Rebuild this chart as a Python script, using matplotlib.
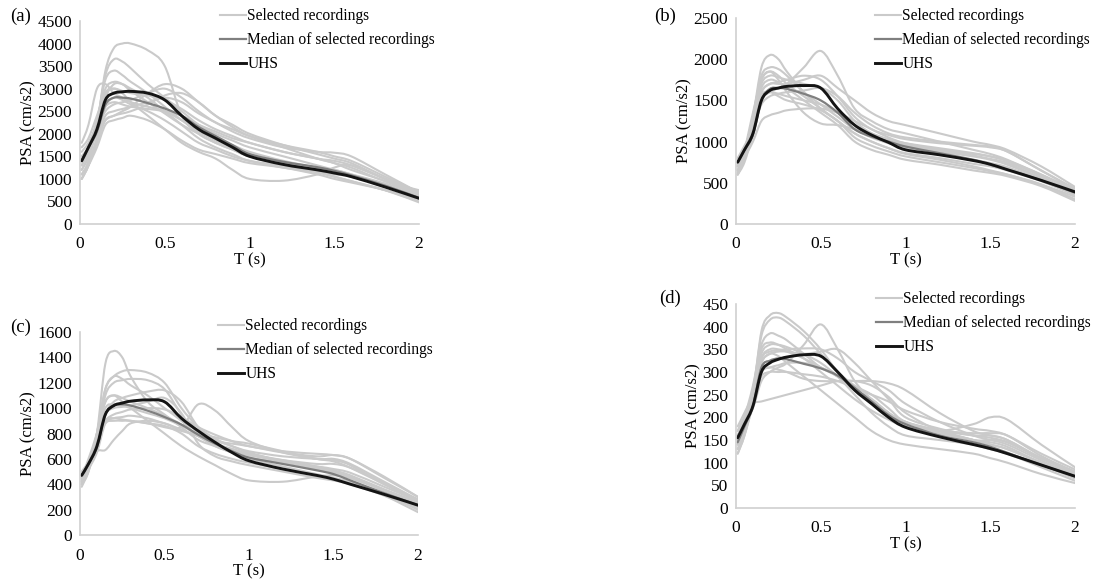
import matplotlib
matplotlib.use("Agg")
import matplotlib.pyplot as plt
from matplotlib.path import Path
from matplotlib.patches import PathPatch
from matplotlib.lines import Line2D

plt.rcParams['font.family'] = ['Liberation Serif', 'DejaVu Serif']

T = [0.01, 0.05, 0.1, 0.15, 0.2, 0.25, 0.3, 0.4, 0.5, 0.6,
     0.7, 0.8, 0.9, 1.0, 1.2, 1.4, 1.5, 1.6, 1.8, 2.0]

# ---- panel (a) ----
uhs_a = [1400, 1700, 2100, 2750, 2900, 2930, 2940, 2900, 2750, 2400,
         2100, 1900, 1700, 1500, 1320, 1200, 1130, 1050, 820, 570]
med_a = [1400, 1700, 2050, 2650, 2800, 2800, 2780, 2680, 2560, 2400,
         2150, 1950, 1750, 1550, 1380, 1260, 1180, 1080, 850, 580]
rec_a = [
    [1200, 1500, 2200, 3400, 3900, 4000, 4000, 3850, 3500, 2400, 2000, 1800, 1650, 1500, 1350, 1150, 1050, 950, 750, 550],
    [1100, 1400, 2200, 3300, 3650, 3600, 3450, 3100, 2800, 2500, 2200, 2000, 1850, 1700, 1500, 1300, 1200, 1100, 850, 600],
    [1500, 1700, 2300, 3200, 3400, 3300, 3150, 2900, 2600, 2300, 2050, 1850, 1700, 1550, 1350, 1200, 1150, 1050, 850, 600],
    [1800, 2200, 3000, 3100, 2900, 2800, 2700, 2600, 2500, 2300, 2100, 1900, 1750, 1600, 1400, 1250, 1200, 1100, 900, 650],
    [1300, 1600, 2200, 2900, 3000, 2900, 2700, 2400, 2100, 1800, 1600, 1450, 1200, 1000, 960, 1100, 1250, 1300, 1000, 700],
    [1000, 1300, 1900, 2400, 2500, 2550, 2600, 2700, 2800, 2700, 2450, 2250, 2050, 1900, 1700, 1600, 1580, 1500, 1100, 700],
    [1000, 1300, 1800, 2300, 2400, 2500, 2600, 2900, 3100, 3000, 2700, 2400, 2200, 2000, 1750, 1550, 1450, 1350, 1000, 650],
    [1600, 1800, 2200, 2600, 2700, 2650, 2600, 2550, 2500, 2400, 2200, 2050, 1900, 1800, 1600, 1450, 1400, 1300, 1000, 700],
    [1200, 1500, 2100, 2800, 3100, 3100, 3000, 2800, 2500, 2200, 1900, 1700, 1550, 1400, 1300, 1200, 1150, 1050, 850, 600],
    [1400, 1600, 2000, 2300, 2400, 2450, 2500, 2650, 2850, 2900, 2700, 2400, 2150, 1950, 1700, 1450, 1350, 1200, 950, 650],
    [1100, 1300, 1700, 2200, 2300, 2350, 2400, 2300, 2100, 1850, 1650, 1550, 1450, 1350, 1250, 1100, 1000, 920, 750, 500],
    [1300, 1600, 2300, 3000, 3150, 3100, 2950, 2700, 2450, 2200, 2000, 1800, 1650, 1500, 1300, 1150, 1050, 950, 750, 480],
    [1700, 1900, 2400, 2900, 3000, 2950, 2900, 2850, 2750, 2550, 2300, 2100, 1950, 1800, 1600, 1450, 1350, 1250, 950, 750],
    [1500, 1700, 2100, 2500, 2650, 2700, 2750, 2900, 3000, 2800, 2500, 2250, 2100, 1950, 1750, 1600, 1500, 1400, 1050, 700],
    [1000, 1300, 1900, 2600, 2800, 2750, 2650, 2500, 2300, 2050, 1800, 1650, 1500, 1400, 1250, 1150, 1100, 1050, 850, 620],
]

# ---- panel (b) ----
uhs_b = [750, 900, 1100, 1500, 1620, 1650, 1670, 1680, 1650, 1400,
         1200, 1080, 990, 900, 840, 770, 725, 660, 530, 390]
med_b = [750, 900, 1080, 1500, 1640, 1650, 1640, 1580, 1500, 1350,
         1150, 1060, 1000, 940, 860, 780, 720, 660, 530, 380]
rec_b = [
    [600, 800, 1300, 1900, 2050, 2000, 1850, 1600, 1400, 1250, 1100, 1000, 920, 850, 780, 700, 650, 600, 480, 330],
    [700, 850, 1100, 1500, 1600, 1650, 1700, 1900, 2100, 1800, 1400, 1250, 1150, 1100, 1000, 900, 850, 780, 600, 420],
    [650, 850, 1300, 1800, 1900, 1880, 1800, 1600, 1450, 1300, 1150, 1050, 980, 920, 850, 780, 740, 690, 540, 380],
    [600, 800, 1000, 1250, 1320, 1350, 1380, 1400, 1400, 1350, 1250, 1150, 1050, 980, 900, 830, 790, 740, 560, 380],
    [700, 900, 1200, 1600, 1700, 1700, 1700, 1750, 1800, 1650, 1500, 1350, 1250, 1200, 1100, 1000, 960, 900, 700, 450],
    [700, 900, 1350, 1750, 1850, 1800, 1700, 1550, 1400, 1250, 1100, 1000, 920, 860, 800, 730, 700, 650, 520, 350],
    [650, 850, 1300, 1750, 1850, 1750, 1600, 1350, 1220, 1200, 1150, 1080, 1000, 950, 880, 820, 780, 720, 560, 400],
    [800, 950, 1150, 1450, 1550, 1580, 1600, 1620, 1650, 1550, 1350, 1200, 1100, 1050, 1000, 960, 940, 880, 650, 420],
    [600, 750, 1100, 1550, 1600, 1550, 1500, 1450, 1380, 1250, 1050, 950, 880, 820, 750, 680, 640, 600, 480, 300],
    [750, 900, 1250, 1700, 1800, 1780, 1750, 1700, 1650, 1500, 1250, 1100, 1020, 960, 900, 850, 820, 770, 600, 400],
    [650, 850, 1200, 1650, 1750, 1720, 1650, 1500, 1350, 1200, 1000, 900, 840, 780, 720, 650, 620, 580, 460, 280],
    [700, 900, 1250, 1600, 1700, 1720, 1750, 1800, 1750, 1550, 1300, 1150, 1080, 1030, 980, 950, 930, 880, 650, 430],
    [620, 800, 1150, 1550, 1600, 1580, 1550, 1500, 1450, 1350, 1200, 1100, 1030, 980, 920, 860, 820, 760, 580, 350],
]

# ---- panel (c) ----
uhs_c = [470, 560, 700, 950, 1020, 1040, 1055, 1065, 1050, 920,
         820, 730, 650, 585, 520, 470, 440, 400, 320, 235]
med_c = [470, 560, 690, 950, 1020, 1030, 1020, 980, 930, 870,
         790, 720, 660, 610, 560, 510, 480, 430, 330, 235]
rec_c = [
    [400, 500, 800, 1350, 1450, 1400, 1250, 1050, 950, 850, 750, 700, 650, 600, 540, 480, 450, 420, 320, 220],
    [450, 550, 800, 1150, 1250, 1290, 1300, 1280, 1200, 1000, 850, 760, 700, 650, 580, 520, 490, 450, 350, 250],
    [420, 520, 750, 1100, 1200, 1220, 1230, 1220, 1150, 950, 800, 720, 680, 640, 590, 540, 510, 470, 360, 260],
    [480, 560, 700, 950, 1050, 1080, 1100, 1130, 1140, 1050, 850, 750, 700, 660, 620, 600, 590, 550, 400, 270],
    [450, 520, 650, 880, 920, 930, 940, 920, 880, 850, 1030, 980, 850, 740, 650, 600, 580, 530, 400, 280],
    [400, 550, 660, 670, 750, 820, 880, 900, 880, 830, 780, 740, 720, 700, 650, 620, 630, 600, 450, 300],
    [450, 600, 800, 1050, 1100, 1050, 1000, 900, 800, 700, 620, 550, 480, 430, 420, 460, 470, 450, 350, 200],
    [420, 520, 800, 1150, 1250, 1230, 1180, 1100, 1000, 900, 780, 720, 670, 630, 580, 530, 500, 460, 350, 240],
    [500, 580, 750, 900, 950, 970, 990, 1000, 990, 930, 850, 790, 740, 700, 660, 640, 630, 600, 460, 300],
    [430, 520, 700, 900, 920, 910, 900, 880, 860, 800, 700, 640, 600, 570, 520, 470, 440, 410, 320, 200],
    [460, 560, 780, 1050, 1100, 1080, 1050, 1000, 940, 870, 780, 700, 650, 610, 570, 540, 520, 490, 380, 270],
    [440, 540, 760, 1000, 1030, 1020, 1000, 960, 920, 860, 800, 770, 740, 720, 660, 600, 600, 560, 420, 280],
    [380, 500, 720, 950, 1000, 1010, 1020, 1050, 1080, 960, 720, 620, 580, 550, 500, 450, 430, 400, 310, 180],
    [470, 560, 720, 880, 900, 900, 900, 880, 850, 820, 780, 720, 670, 630, 590, 560, 560, 530, 410, 260],
]

# ---- panel (d) ----
uhs_d = [155, 185, 225, 300, 320, 328, 333, 338, 335, 300,
         260, 230, 200, 178, 157, 140, 131, 120, 95, 70]
med_d = [145, 180, 225, 310, 325, 330, 328, 318, 308, 292,
         265, 235, 205, 185, 160, 145, 135, 122, 95, 70]
rec_d = [
    [130, 170, 250, 390, 425, 430, 420, 390, 350, 300, 260, 230, 200, 180, 160, 140, 130, 120, 95, 65],
    [140, 180, 260, 380, 415, 420, 410, 380, 340, 300, 270, 250, 220, 190, 170, 150, 140, 130, 100, 70],
    [150, 180, 220, 280, 300, 310, 320, 360, 405, 350, 280, 240, 210, 190, 170, 150, 145, 135, 100, 70],
    [160, 200, 270, 360, 385, 380, 370, 340, 310, 290, 260, 240, 210, 190, 165, 150, 140, 130, 100, 75],
    [170, 200, 230, 235, 240, 245, 250, 260, 270, 280, 280, 270, 245, 210, 170, 150, 150, 145, 110, 80],
    [120, 160, 230, 300, 310, 315, 320, 320, 310, 290, 260, 240, 210, 180, 170, 185, 200, 195, 140, 90],
    [140, 180, 240, 320, 340, 345, 345, 340, 345, 350, 320, 280, 240, 200, 175, 160, 155, 145, 110, 75],
    [130, 170, 250, 330, 345, 348, 350, 352, 350, 330, 300, 280, 260, 230, 190, 160, 150, 140, 105, 70],
    [180, 210, 250, 300, 310, 305, 300, 285, 280, 280, 280, 280, 275, 260, 210, 170, 160, 150, 110, 80],
    [120, 160, 230, 320, 340, 335, 320, 290, 260, 230, 200, 170, 150, 140, 130, 120, 110, 100, 75, 55],
    [150, 180, 240, 330, 350, 350, 345, 330, 310, 290, 260, 230, 200, 180, 170, 165, 165, 160, 115, 80],
    [160, 190, 250, 340, 360, 360, 355, 340, 320, 290, 250, 210, 180, 160, 150, 140, 130, 120, 90, 60],
    [140, 180, 260, 350, 365, 360, 350, 330, 300, 270, 240, 215, 195, 180, 170, 160, 160, 150, 110, 75],
    [170, 200, 240, 290, 300, 300, 300, 295, 290, 280, 265, 250, 235, 215, 190, 175, 170, 160, 120, 85],
]

panels = [
    ("(a)", rec_a, med_a, uhs_a, 4500, 500),
    ("(b)", rec_b, med_b, uhs_b, 2500, 500),
    ("(c)", rec_c, med_c, uhs_c, 1600, 200),
    ("(d)", rec_d, med_d, uhs_d, 450, 50),
]

W, H = 1099, 581
# axes boxes in pixels: left, top, right, bottom
boxes = [(80, 21, 419, 224), (736, 18, 1075, 224),
         (80, 332, 418, 535), (736, 304, 1075, 508)]
# legend anchor (handle left, top of first row) and panel label positions
leg_pos = [(220, 8), (875, 8), (218, 318), (876, 291)]
lab_pos = [(10, 16), (654, 16), (10, 327), (659, 298)]

col_rec = "#cacaca"
col_med = "#7f7f7f"
col_uhs = "#141414"
col_spine = "#d0d0d0"
FS = 12


def smooth_line(ax, x, y, **kw):
    # Excel-like smoothed line: bezier segments through the data points
    n = len(x)
    verts = [(x[0], y[0])]
    codes = [Path.MOVETO]
    for i in range(n - 1):
        a = max(i - 1, 0)
        d = min(i + 2, n - 1)
        c1 = (x[i] + (x[i + 1] - x[a]) / 6, y[i] + (y[i + 1] - y[a]) / 6)
        c2 = (x[i + 1] - (x[d] - x[i]) / 6, y[i + 1] - (y[d] - y[i]) / 6)
        verts += [c1, c2, (x[i + 1], y[i + 1])]
        codes += [Path.CURVE4] * 3
    ax.add_patch(PathPatch(Path(verts, codes), facecolor="none",
                           capstyle="round", joinstyle="round", **kw))


fig = plt.figure(figsize=(W / 100, H / 100), dpi=100)

for i, (lab, rec, med, uhs, ymax, ystep) in enumerate(panels):
    l, t, r, b = boxes[i]
    ax = fig.add_axes([l / W, 1 - b / H, (r - l) / W, (b - t) / H])
    for y in rec:
        smooth_line(ax, T, y, edgecolor=col_rec, lw=1.5)
    smooth_line(ax, T, med, edgecolor=col_med, lw=1.6)
    smooth_line(ax, T, uhs, edgecolor=col_uhs, lw=2.1)

    ax.set_xlim(0, 2)
    ax.set_ylim(0, ymax)
    ax.set_xticks([0, 0.5, 1, 1.5, 2])
    ax.set_xticklabels(["0", "0.5", "1", "1.5", "2"])
    ax.set_yticks(range(0, ymax + 1, ystep))
    ax.tick_params(length=0, labelsize=FS + 0.5)
    ax.tick_params(axis="x", pad=9)
    ax.tick_params(axis="y", pad=5.5)
    for s in ["top", "right"]:
        ax.spines[s].set_visible(False)
    for s in ["left", "bottom"]:
        ax.spines[s].set_color(col_spine)
        ax.spines[s].set_linewidth(1.2)
    ax.set_xlabel("T (s)", fontsize=FS, labelpad=0)
    ax.set_ylabel("PSA (cm/s2)", fontsize=FS, labelpad=1)

    handles = [Line2D([], [], color=col_rec, lw=1.5),
               Line2D([], [], color=col_med, lw=1.6),
               Line2D([], [], color=col_uhs, lw=2.1)]
    labels = ["Selected recordings", "Median of selected recordings", "UHS"]
    lx, ly = leg_pos[i]
    ax.legend(handles, labels, loc="upper left",
              bbox_to_anchor=(lx / W, 1 - ly / H),
              bbox_transform=fig.transFigure, frameon=False, fontsize=11.2,
              handlelength=1.7, handletextpad=0.05, borderpad=0,
              borderaxespad=0, labelspacing=0.52)

    px, py = lab_pos[i]
    fig.text(px / W, 1 - py / H, lab, fontsize=13.5, va="center", ha="left")

fig.savefig("out.png", dpi=100)
